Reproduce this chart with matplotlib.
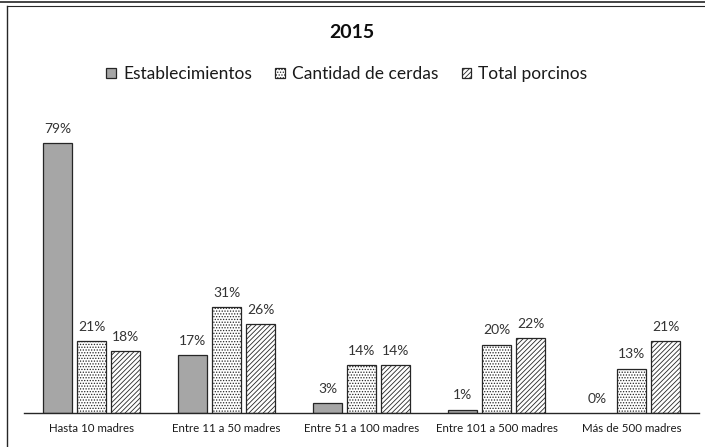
import matplotlib
matplotlib.use('Agg')
import matplotlib.pyplot as plt
from matplotlib.lines import Line2D
import numpy as np

categorias = ['Hasta 10 madres', 'Entre 11 a 50 madres', 'Entre 51 a 100 madres',
              'Entre 101 a 500 madres', 'Más de 500 madres']
establecimientos = [79, 17, 3, 1, 0]
cantidad_cerdas = [21, 31, 14, 20, 13]
total_porcinos = [18, 26, 14, 22, 21]
series = ['Establecimientos', 'Cantidad de cerdas', 'Total porcinos']

plt.rcParams['font.family'] = ['Lato', 'DejaVu Sans']
plt.rcParams['hatch.linewidth'] = 0.6
plt.rcParams['hatch.color'] = '#404040'

W, H = 705, 447
fig = plt.figure(figsize=(W / 100, H / 100), dpi=100)
ax = fig.add_axes([24 / W, 1 - 413 / H, 675 / W, (413 - 120) / H])

x = np.arange(len(categorias))
bw = 0.21
step = 0.252
styles = [dict(color='#a6a6a6', hatch=None),
          dict(color='white', hatch='......'),
          dict(color='white', hatch='///////')]
datos = [establecimientos, cantidad_cerdas, total_porcinos]

for i, (vals, st, name) in enumerate(zip(datos, styles, series)):
    bars = ax.bar(x + (i - 1) * step, vals, bw, facecolor=st['color'],
                  edgecolor='#262626', linewidth=0.9, hatch=st['hatch'], label=name)
    for b, v in zip(bars, vals):
        if v == 0:
            b.set_linewidth(0)
        ax.text(b.get_x() + b.get_width() / 2, v + 2.4, '%d%%' % v,
                ha='center', va='bottom', fontsize=10, color='#333333')

ax.set_xlim(-0.5, len(categorias) - 0.5)
ax.set_ylim(0, 85.7)
ax.set_xticks(x)
ax.set_xticklabels(categorias, fontsize=8.3, color='#1a1a1a')
ax.tick_params(axis='x', length=0, pad=7)
ax.set_yticks([])
for s in ['top', 'right', 'left']:
    ax.spines[s].set_visible(False)
ax.spines['bottom'].set_color('#262626')
ax.spines['bottom'].set_linewidth(1.0)

fig.text(352 / W, 1 - 33 / H, '2015', ha='center', va='center',
         fontsize=14, fontweight='bold', color='#0d0d0d')
fig.legend(loc='center', bbox_to_anchor=(0.492, 1 - 74 / H), ncol=3, frameon=False,
           fontsize=12.5, handlelength=0.55, handleheight=0.55, handletextpad=0.4,
           columnspacing=1.35, labelcolor='#1a1a1a')

# marco del grafico
fig.add_artist(Line2D([0, 1], [1 - 2 / H, 1 - 2 / H], color='#262626', lw=1.2))
fig.add_artist(Line2D([7 / W, 7 / W], [0, 1 - 6 / H], color='#262626', lw=1.0))
fig.add_artist(Line2D([7 / W, 1], [1 - 6 / H, 1 - 6 / H], color='#262626', lw=0.8))

plt.savefig('out.png', dpi=100)
